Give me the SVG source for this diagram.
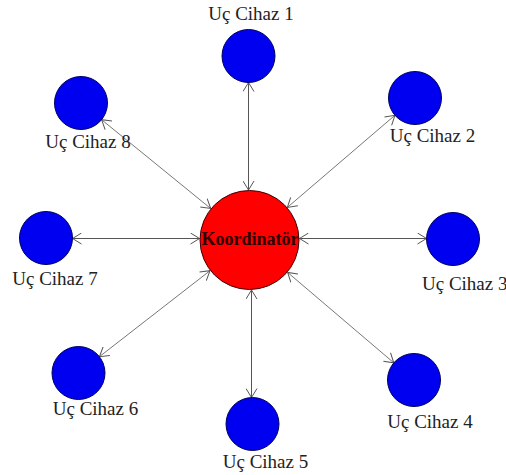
<svg xmlns="http://www.w3.org/2000/svg" width="506" height="475" viewBox="0 0 506 475">
  <defs>
    <marker id="arr" viewBox="0 0 10 12" refX="9.5" refY="6" markerWidth="10" markerHeight="12" markerUnits="userSpaceOnUse" orient="auto-start-reverse">
      <path d="M0.5,0.5 L9.5,6 L0.5,11.5" fill="none" stroke="#555" stroke-width="1"/>
    </marker>
  </defs>
  <style>
    .link { stroke: #555; stroke-width: 1; fill: none; marker-start: url(#arr); marker-end: url(#arr); }
    .diag { stroke: #777; }
    .dev { fill: #0000f0; stroke: #000060; stroke-width: 1; }
    .hub { fill: #ff0000; stroke: #400000; stroke-width: 1; }
    .lbl { font-family: "Liberation Serif", "Times New Roman", serif; font-size: 19px; fill: #222; text-anchor: middle; }
    .hubtxt { font-family: "Liberation Serif", "Times New Roman", serif; font-size: 18px; font-weight: bold; fill: #300000; text-anchor: middle; }
  </style>
  <rect width="506" height="475" fill="#fff"/>

  <!-- connectors between the coordinator and each end device -->
  <g id="connectors">
    <line class="link" x1="248.5" y1="190" x2="248.5" y2="82.5"/>
    <line class="link diag" x1="287.4" y1="207.4" x2="394.9" y2="115.3"/>
    <line class="link" x1="299.5" y1="238.5" x2="426.5" y2="238.5"/>
    <line class="link diag" x1="287.6" y1="272.4" x2="393.8" y2="362.8"/>
    <line class="link" x1="251.5" y1="290" x2="251.5" y2="397.5"/>
    <line class="link diag" x1="210" y1="270.7" x2="99.4" y2="356.7"/>
    <line class="link" x1="199.5" y1="238.5" x2="72.5" y2="238.5"/>
    <line class="link diag" x1="210.7" y1="208.5" x2="101.6" y2="119.7"/>
  </g>

  <g id="koordinator">
    <circle class="hub" cx="249.5" cy="240" r="49.5"/>
    <text class="hubtxt" x="250" y="245">Koordinatör</text>
  </g>

  <g id="cihaz1">
    <circle class="dev" cx="248.5" cy="56" r="26.5"/>
    <text class="lbl" x="251" y="20">Uç Cihaz 1</text>
  </g>
  <g id="cihaz2">
    <circle class="dev" cx="415" cy="98" r="26.5"/>
    <text class="lbl" x="432.5" y="142">Uç Cihaz 2</text>
  </g>
  <g id="cihaz3">
    <circle class="dev" cx="453" cy="239" r="26.5"/>
    <text class="lbl" x="422" y="290" text-anchor="start" style="text-anchor:start">Uç Cihaz 3</text>
  </g>
  <g id="cihaz4">
    <circle class="dev" cx="414" cy="380" r="26.5"/>
    <text class="lbl" x="430" y="428">Uç Cihaz 4</text>
  </g>
  <g id="cihaz5">
    <circle class="dev" cx="252.5" cy="424" r="26.5"/>
    <text class="lbl" x="265.5" y="468">Uç Cihaz 5</text>
  </g>
  <g id="cihaz6">
    <circle class="dev" cx="78.5" cy="373" r="26.5"/>
    <text class="lbl" x="95.5" y="415">Uç Cihaz 6</text>
  </g>
  <g id="cihaz7">
    <circle class="dev" cx="46" cy="238" r="26.5"/>
    <text class="lbl" x="55" y="285">Uç Cihaz 7</text>
  </g>
  <g id="cihaz8">
    <circle class="dev" cx="81" cy="103" r="26.5"/>
    <text class="lbl" x="88" y="148">Uç Cihaz 8</text>
  </g>
</svg>
